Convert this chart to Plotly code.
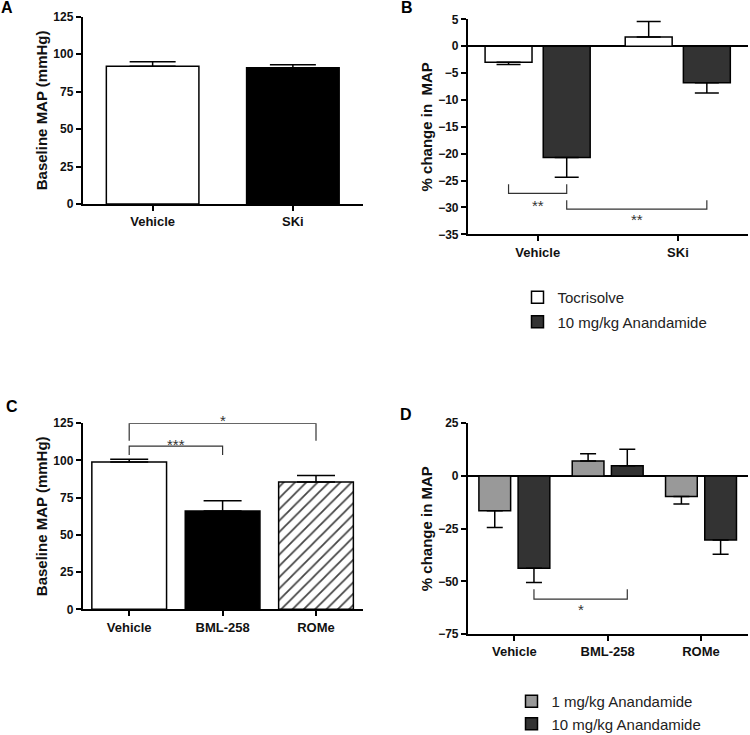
import plotly.graph_objects as go

# Panel A: baseline MAP
a_groups = ["Vehicle", "SKi"]
a_map = [92, 91]
a_err = [3, 2]

# Panel B: % change in MAP
b_groups = ["Vehicle", "SKi"]
b_tocrisolve = [-3.0, 1.7]
b_tocrisolve_err = [0.4, 2.9]
b_aea10 = [-20.7, -6.8]
b_aea10_err = [3.7, 1.9]

# Panel C: baseline MAP
c_groups = ["Vehicle", "BML-258", "ROMe"]
c_map = [99, 66, 85.5]
c_err = [1.8, 7, 4.5]

# Panel D: % change in MAP
d_groups = ["Vehicle", "BML-258", "ROMe"]
d_aea1 = [-16.5, 7.1, -9.8]
d_aea1_err = [8, 3.5, 3.5]
d_aea10 = [-43.8, 4.9, -30.4]
d_aea10_err = [6.8, 7.8, 6.8]

FONT = "Arial, Liberation Sans, sans-serif"
DARK = "#333333"
LIGHT = "#999999"


def one_sided(vals, errs, cap):
    # SEM drawn only away from zero, like the prism output
    up = [e if v >= 0 else 0 for v, e in zip(vals, errs)]
    down = [e if v < 0 else 0 for v, e in zip(vals, errs)]
    return dict(type="data", symmetric=False, array=up, arrayminus=down,
                color="black", thickness=1.5, width=cap)


def bracket(xa, ya, x0, x1, y_leg, y_bar):
    return go.Scatter(x=[x0, x0, x1, x1], y=[y_leg, y_bar, y_bar, y_leg],
                      mode="lines", line=dict(color=DARK, width=1.2),
                      xaxis=xa, yaxis=ya, cliponaxis=False,
                      showlegend=False, hoverinfo="skip")


fig = go.Figure()

# A
fig.add_trace(go.Bar(
    x=list(range(len(a_groups))), y=a_map, width=0.66,
    marker=dict(color=["white", "black"], line=dict(color="black", width=1.5)),
    error_y=one_sided(a_map, a_err, 23),
    xaxis="x", yaxis="y", showlegend=False))

# B
bw = 0.335
fig.add_trace(go.Bar(
    x=list(range(len(b_groups))), y=b_tocrisolve, width=bw, offset=-0.376,
    name="Tocrisolve", legendgroup="toc",
    marker=dict(color="white", line=dict(color="black", width=1.5)),
    error_y=one_sided(b_tocrisolve, b_tocrisolve_err, 12),
    xaxis="x2", yaxis="y2", legend="legend"))
fig.add_trace(go.Bar(
    x=list(range(len(b_groups))), y=b_aea10, width=bw, offset=0.039,
    name="10 mg/kg Anandamide", legendgroup="aea10",
    marker=dict(color=DARK, line=dict(color="black", width=1.5)),
    error_y=one_sided(b_aea10, b_aea10_err, 12),
    xaxis="x2", yaxis="y2", legend="legend"))

# C
fig.add_trace(go.Bar(
    x=list(range(len(c_groups))), y=c_map, width=0.8,
    marker=dict(color=["white", "black", "white"],
                line=dict(color="black", width=1.5),
                pattern=dict(shape=["", "", "/"], fillmode="overlay",
                             fgcolor="black", bgcolor="white", fgopacity=1,
                             size=8, solidity=0.22)),
    error_y=one_sided(c_map, c_err, 19),
    xaxis="x3", yaxis="y3", showlegend=False))

# D
dw = 0.34
fig.add_trace(go.Bar(
    x=list(range(len(d_groups))), y=d_aea1, width=dw, offset=-0.38,
    name="1 mg/kg Anandamide",
    marker=dict(color=LIGHT, line=dict(color="black", width=1.5)),
    error_y=one_sided(d_aea1, d_aea1_err, 8),
    xaxis="x4", yaxis="y4", legend="legend2"))
fig.add_trace(go.Bar(
    x=list(range(len(d_groups))), y=d_aea10, width=dw, offset=0.04,
    name="10 mg/kg Anandamide",
    marker=dict(color=DARK, line=dict(color="black", width=1.5)),
    error_y=one_sided(d_aea10, d_aea10_err, 8),
    xaxis="x4", yaxis="y4", legend="legend2"))

# significance brackets
fig.add_trace(bracket("x2", "y2", -0.2085, 0.2065, -25.7, -27.4))
fig.add_trace(bracket("x2", "y2", 0.2065, 1.2065, -28.65, -30.3))
fig.add_trace(bracket("x3", "y3", 0, 1, 103.7, 109.7))
fig.add_trace(bracket("x3", "y3", 0, 2, 113.2, 125))
fig.add_trace(bracket("x4", "y4", 0.21, 1.21, -53.8, -58.4))

# star label: axis, x, y, pixel shift, text
stars = [
    ("x2", "y2", 0, -29.0, -3.5, "**"),
    ("x2", "y2", 0.707, -31.6, -3.5, "**"),
    ("x3", "y3", 0.5, 113.1, -3.5, "***"),
    ("x3", "y3", 1, 125, 2.5, "*"),
    ("x4", "y4", 0.71, -61.7, -3.5, "*"),
]
annotations = []
for xa, ya, x, y, shift, s in stars:
    annotations.append(dict(x=x, y=y, xref=xa, yref=ya, text=s, showarrow=False,
                            yshift=shift, font=dict(family=FONT, size=15, color=DARK)))

for letter, px, py in [("A", 7, 8), ("B", 406.7, 8), ("C", 11.7, 406), ("D", 406, 414)]:
    annotations.append(dict(x=px / 750, y=1 - py / 735, xref="paper", yref="paper",
                            text=letter, showarrow=False, xanchor="center", yanchor="middle",
                            font=dict(family=FONT, size=16, color="black", weight="bold")))


def xax(domain, anchor, groups):
    n = len(groups)
    return dict(domain=domain, anchor=anchor, range=[-0.5, n - 0.5], automargin=False,
                tickvals=list(range(n)), ticktext=groups,
                showline=True, linecolor="black", linewidth=1.5,
                ticks="outside", ticklen=5, tickwidth=1.5, tickcolor="black",
                showgrid=False, zeroline=False,
                tickfont=dict(family=FONT, size=13, color="#111", weight="bold"))


def yax(domain, anchor, rng, dtick, title, zero):
    return dict(domain=domain, anchor=anchor, range=rng, dtick=dtick, tick0=rng[0],
                automargin=False,
                showline=True, linecolor="black", linewidth=1.5,
                ticks="outside", ticklen=5, tickwidth=1.5, tickcolor="black",
                showgrid=False, zeroline=zero, zerolinecolor="black", zerolinewidth=2,
                tickfont=dict(family=FONT, size=12, color="#111", weight="bold"),
                title=dict(text=title, standoff=2,
                           font=dict(family=FONT, size=15, color="#111", weight="bold")))


fig.update_layout(
    template="none",
    width=750, height=735,
    margin=dict(l=0, r=0, t=0, b=0, autoexpand=False),
    paper_bgcolor="white", plot_bgcolor="white",
    barmode="overlay",
    xaxis=xax([0.110, 0.484], "y", a_groups),
    yaxis=yax([0.7224, 0.9773], "x", [0, 125], 25, "Baseline MAP (mmHg)", False),
    xaxis2=xax([0.6236, 0.9973], "y2", b_groups),
    yaxis2=yax([0.6812, 0.9737], "x2", [-35, 5], 5, "% change in  MAP", True),
    xaxis3=xax([0.110, 0.4836], "y3", c_groups),
    yaxis3=yax([0.1710, 0.4241], "x3", [0, 125], 25, "Baseline MAP (mmHg)", False),
    xaxis4=xax([0.6236, 0.9969], "y4", d_groups),
    yaxis4=yax([0.1374, 0.4241], "x4", [-75, 25], 25, "% change in MAP", True),
    legend=dict(x=0.690, y=1 - 281 / 735, xanchor="left", yanchor="top",
                tracegroupgap=2, traceorder="grouped",
                font=dict(family=FONT, size=15, color="#222"), bgcolor="rgba(0,0,0,0)"),
    legend2=dict(x=0.682, y=1 - 685 / 735, xanchor="left", yanchor="top",
                 font=dict(family=FONT, size=15, color="#222"), bgcolor="rgba(0,0,0,0)"),
    annotations=annotations,
)

# the page adds a default 8px body margin; drop it so the figure fills the window
fig.write_html("out.html", config={"displayModeBar": False},
               post_script="document.body.style.margin = '0';")
